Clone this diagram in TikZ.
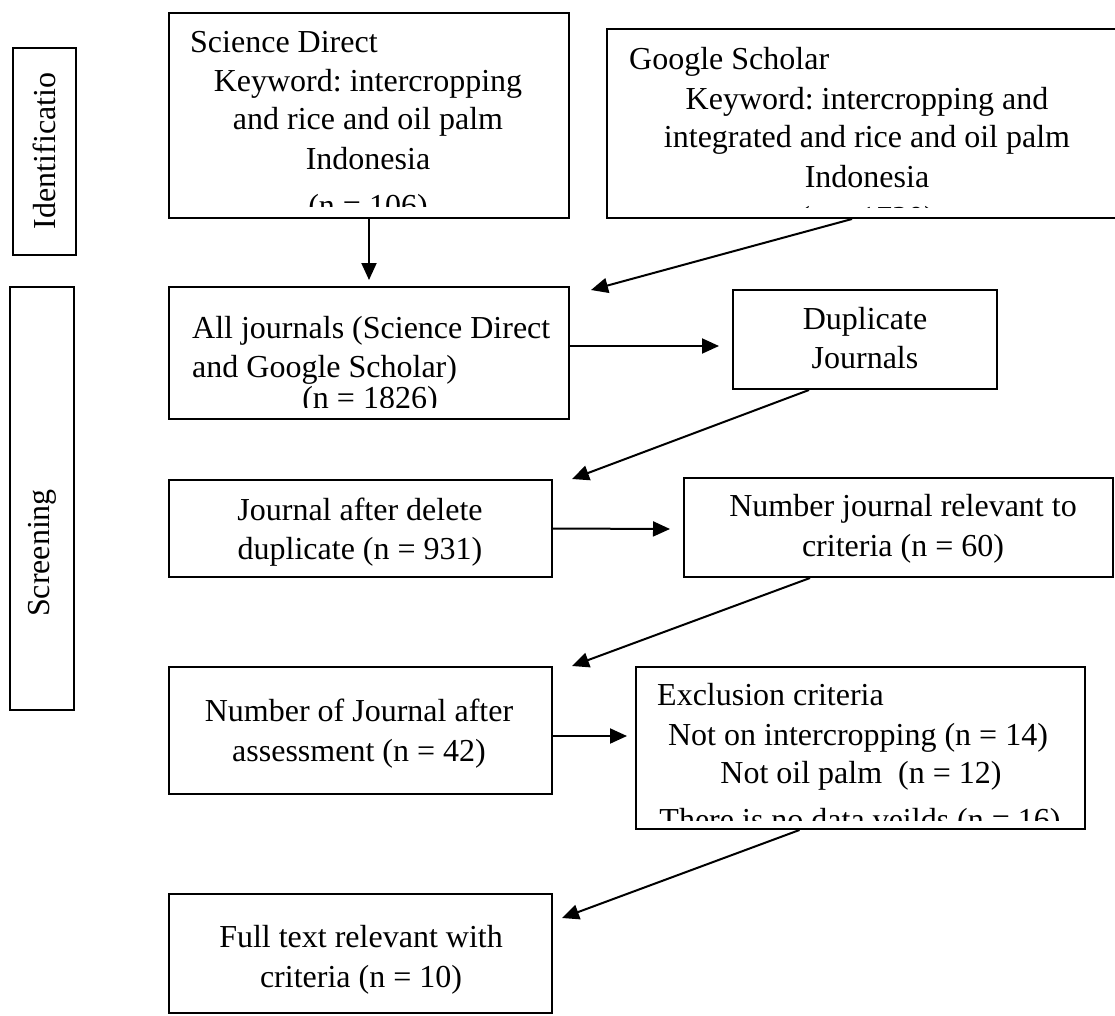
\documentclass[tikz,border=0pt]{standalone}
\usepackage{fontspec}
\setmainfont{Liberation Serif}
\usetikzlibrary{arrows.meta,calc}
\begin{document}
\frenchspacing
\begin{tikzpicture}[x=1pt,y=-1pt, font=\fontsize{32}{38}\selectfont,
  bx/.style={draw, line width=2pt, inner sep=0pt},
  txt/.style={inner sep=0pt, anchor=base},
  txtl/.style={inner sep=0pt, anchor=base west},
  arr/.style={line width=2pt, -{Triangle[length=17pt,width=15pt]}}]
\useasboundingbox (0,0) rectangle (1115,1016);
\clip (0,0) rectangle (1115,1016);

% side labels
\node[bx, minimum width=63pt, minimum height=207pt] (idb) at (44.5,151.5) {};
\node[inner sep=0pt, rotate=90] (idt) at (44,151) {Identificatio};
\node[bx, minimum width=64pt, minimum height=423pt] (scb) at (42,498.5) {};
\node[inner sep=0pt, rotate=90] (sct) at (42,553) {Screening};

% boxes
\node[bx, minimum width=400pt, minimum height=205pt] (sd) at (369,115.5) {};
\node[bx, minimum width=520pt, minimum height=189pt] (gs) at (867,123.5) {};
\node[bx, minimum width=400pt, minimum height=132pt] (aj) at (369,353) {};
\node[bx, minimum width=264pt, minimum height=99pt] (dup) at (865,339.5) {};
\node[bx, minimum width=383pt, minimum height=97pt] (jad) at (360.5,528.5) {};
\node[bx, minimum width=429pt, minimum height=99pt] (njr) at (898.5,527.5) {};
\node[bx, minimum width=383pt, minimum height=127pt] (asm) at (360.5,730.5) {};
\node[bx, minimum width=449pt, minimum height=162pt] (exc) at (860,748) {};
\node[bx, minimum width=383pt, minimum height=119pt] (ful) at (360.5,953.5) {};

% texts (clipped where the reference cuts them)
\begin{scope}
  \clip (169,13) rectangle (569,207);
  \node[txtl] (sd1) at (190,53) {Science Direct};
  \node[txt] (sd2) at (368,92) {Keyword: intercropping};
  \node[txt] (sd3) at (368,130) {and rice and oil palm};
  \node[txt] (sd4) at (368,170) {Indonesia};
  \node[txt] (sd5) at (368,217) {(n = 106)};
\end{scope}
\begin{scope}
  \clip (607,29) rectangle (1115,208);
  \node[txtl] (gs1) at (629,70) {Google Scholar};
  \node[txt] (gs2) at (867,110) {Keyword: intercropping and};
  \node[txt] (gs3) at (867,148) {integrated and rice and oil palm};
  \node[txt] (gs4) at (867,188) {Indonesia};
  \node[txt] (gs5) at (867,229) {(n = 1720)};
\end{scope}
\begin{scope}
  \clip (169,287) rectangle (569,407.5);
  \node[txtl] (aj1) at (192,338) {All journals (Science Direct};
  \node[txtl] (aj2) at (192,377) {and Google Scholar)};
  \node[txt] (aj3) at (370,408) {(n = 1826)};
\end{scope}
\node[txt] (du1) at (865,329) {Duplicate};
\node[txt] (du2) at (865,368) {Journals};
\node[txt] (ja1) at (360,520) {Journal after delete};
\node[txt] (ja2) at (360,559) {duplicate (n = 931)};
\node[txt] (nj1) at (903,516) {Number journal relevant to};
\node[txt] (nj2) at (903,556) {criteria (n = 60)};
\node[txt] (as1) at (359,721) {Number of Journal after};
\node[txt] (as2) at (359,761) {assessment (n = 42)};
\begin{scope}
  \clip (636,667) rectangle (1084,820);
  \node[txtl] (ex1) at (657,705) {Exclusion criteria};
  \node[txt] (ex2) at (858,745) {Not on intercropping (n = 14)};
  \node[txt] (ex3) at (861,783) {Not oil palm~ (n = 12)};
  \node[txt] (ex4) at (860,830) {There is no data veilds (n = 16)};
\end{scope}
\node[txt] (fu1) at (361,947) {Full text relevant with};
\node[txt] (fu2) at (361,987) {criteria (n = 10)};

% free arrow ends
\coordinate (t1) at (369,280);
\coordinate (t2) at (591,290);
\coordinate (t3) at (719,346);
\coordinate (t4) at (572,479);
\coordinate (t5) at (670,529);
\coordinate (t6) at (572,666);
\coordinate (t7) at (627,736);
\coordinate (t8) at (562,918);

% connectors
\draw[arr] (sd.south) -- (t1);
\draw[arr] ([xshift=246pt]gs.south west) -- (t2);
\draw[arr] ([yshift=7pt]aj.east) -- (t3);
\draw[arr] ([xshift=77pt]dup.south west) -- (t4);
\draw[arr] (jad.east) -- (t5);
\draw[arr] ([xshift=127pt]njr.south west) -- (t6);
\draw[arr] ([yshift=-5.5pt]asm.east) -- (t7);
\draw[arr] ([xshift=165pt]exc.south west) -- (t8);
\end{tikzpicture}
\end{document}
